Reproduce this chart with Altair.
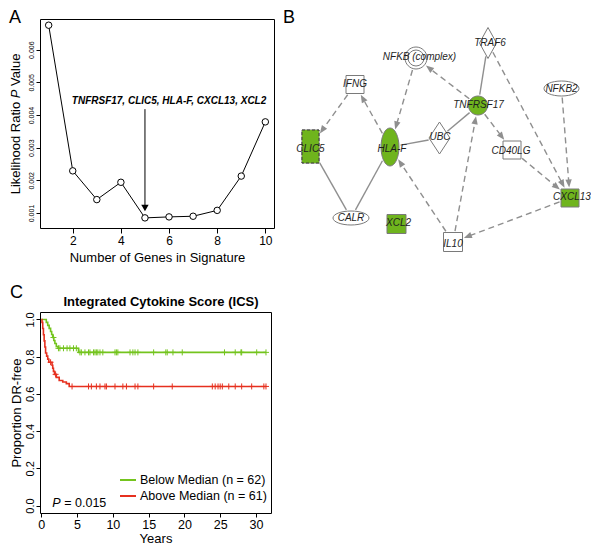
import math
import altair as alt
import pandas as pd

FONT = "Liberation Sans"
NODE_GREEN = "#6fb41d"
LINE_GREEN = "#74c41e"
LINE_RED = "#e6301f"
EDGE_GREY = "#8f8f8f"
NODE_EDGE = "#7a7a7a"

# ---------------- Panel A data ----------------
a_genes = [1, 2, 3, 4, 5, 6, 7, 8, 9, 10]
a_pvalue = [0.00675, 0.00229, 0.00141, 0.00194, 0.00085, 0.00088, 0.00090, 0.00108, 0.00213, 0.00379]
a_x_ticks = [2, 4, 6, 8, 10]
a_y_ticks = [0.001, 0.002, 0.003, 0.004, 0.005, 0.006]
a_note = "TNFRSF17, CLIC5, HLA-F, CXCL13, XCL2"
a_note_x = 6.0
a_note_y = 0.00444
a_arrow_x = 5
a_arrow_top = 0.00418
a_arrow_bottom = 0.00118
a_arrow_head = 0.00115

# ---------------- Panel B data ----------------
b_nodes = ["TRAF6", "NFKB (complex)", "IFNG", "NFKB2", "TNFRSF17", "CLIC5", "HLA-F",
           "UBC", "CD40LG", "CXCL13", "CALR", "XCL2", "IL10"]
b_x = [205, 133, 72, 278.5, 195, 27.5, 107, 156.5, 229, 287, 68, 113.5, 170]
b_y = [34, 49, 75.5, 79.5, 96.5, 137.5, 138, 129, 141, 189, 209, 215, 233]
b_label_x = [207, 136.5, 72, 278.5, 195.5, 27.5, 109, 157, 228, 289, 68, 115.5, 170]
b_label_y = [34, 47.7, 75, 79.5, 96, 140, 140, 127.7, 141.7, 188, 209, 214, 235]
b_highlight = ["TNFRSF17", "CLIC5", "HLA-F", "CXCL13", "XCL2"]
b_dashed_border = ["CLIC5"]
b_solid_edges = [("CLIC5", "CALR"), ("HLA-F", "CALR"), ("HLA-F", "UBC"),
                 ("UBC", "TNFRSF17"), ("TNFRSF17", "TRAF6")]
b_arrow_edges = [("IFNG", "CLIC5"), ("HLA-F", "IFNG"), ("NFKB (complex)", "HLA-F"),
                 ("TNFRSF17", "NFKB (complex)"), ("TRAF6", "CXCL13"), ("NFKB2", "CXCL13"),
                 ("TNFRSF17", "CD40LG"), ("CD40LG", "CXCL13"), ("CXCL13", "IL10"),
                 ("IL10", "TNFRSF17"), ("IL10", "HLA-F")]

# ---------------- Panel C data ----------------
c_groups = ["Below Median (n = 62)", "Above Median (n = 61)"]
c_green_t = [0, 0.7, 0.9, 1.1, 1.3, 1.45, 1.6, 1.75, 1.9, 2.1, 2.35, 5.2, 31.4]
c_green_s = [1.0, 0.984, 0.968, 0.952, 0.935, 0.919, 0.903, 0.887, 0.871, 0.855, 0.845, 0.823, 0.823]
c_red_t = [0, 0.1, 0.2, 0.3, 0.4, 0.5, 0.6, 0.75, 0.9, 1.05, 1.5, 1.6, 1.7, 1.85, 2.1, 2.5, 3.0, 3.5, 3.9, 31.4]
c_red_s = [1.0, 0.984, 0.951, 0.918, 0.885, 0.852, 0.82, 0.803, 0.787, 0.77, 0.754, 0.738, 0.721,
           0.705, 0.689, 0.672, 0.664, 0.655, 0.64, 0.64]
c_green_censor = [1.7, 2.4, 2.6, 3.1, 3.6, 4.0, 4.5, 4.9, 5.4, 5.6, 6.1, 6.6, 6.8, 7.3, 7.5, 7.7, 7.9,
                  8.2, 8.6, 10.3, 10.5, 10.7, 12.4, 12.8, 13.1, 13.5, 15.7, 17.4, 17.6, 18.4, 19.7,
                  25.6, 27.1, 27.9, 28.0, 30.1, 31.4]
c_red_censor = [1.3, 2.0, 4.3, 6.6, 7.0, 7.7, 8.2, 8.9, 9.1, 10.3, 11.4, 11.9, 13.1, 13.5, 15.7,
                18.3, 23.9, 24.3, 24.7, 25.0, 25.3, 26.2, 27.1, 28.0, 29.4, 31.1, 31.4]
c_x_ticks = [0, 5, 10, 15, 20, 25, 30]
c_y_ticks = [0.0, 0.2, 0.4, 0.6, 0.8, 1.0]
c_pvalue_text = "= 0.015"
c_p_pos = [1.53, 0.012]

# =====================================================================
# Panel A
# =====================================================================
A_W, A_H = 234, 209
xa = alt.Scale(domain=[0.64, 10.36], nice=False, zero=False)
ya = alt.Scale(domain=[0.00054, 0.00694], nice=False, zero=False)
a_xaxis = alt.Axis(values=a_x_ticks, title="Number of Genes in Signature", labelFontSize=12,
                   tickSize=5, labelPadding=2, titleFontSize=13, titlePadding=5)
a_yaxis = alt.Axis(values=a_y_ticks, format=".3f", title=None, labelAngle=270,
                   labelAlign="center", labelBaseline="bottom", labelFontSize=7,
                   tickSize=4, labelPadding=2)


def ax(f):
    return alt.X(f, scale=xa, axis=a_xaxis)


def ay(f):
    return alt.Y(f, scale=ya, axis=a_yaxis)


a_df = pd.DataFrame({"n": a_genes, "p": a_pvalue})
a_line = alt.Chart(a_df).mark_line(color="black", strokeWidth=1).encode(x=ax("n:Q"), y=ay("p:Q"))
a_pts = alt.Chart(a_df).mark_point(shape="circle", filled=True, fill="white", stroke="black",
                                   strokeWidth=1, size=42, opacity=1).encode(x=ax("n:Q"), y=ay("p:Q"))
a_note_df = pd.DataFrame({"x": [a_note_x], "y": [a_note_y], "t": [a_note]})
a_text = alt.Chart(a_note_df).mark_text(font=FONT, fontSize=10, fontWeight="bold", fontStyle="italic",
                                        color="black").encode(x=ax("x:Q"), y=ay("y:Q"), text="t:N")
a_arrow_df = pd.DataFrame({"x": [a_arrow_x], "y": [a_arrow_top], "y2": [a_arrow_bottom],
                           "yh": [a_arrow_head]})
a_shaft = alt.Chart(a_arrow_df).mark_rule(color="black", strokeWidth=1).encode(
    x=ax("x:Q"), y=ay("y:Q"), y2="y2:Q")
a_head = alt.Chart(a_arrow_df).mark_point(shape="triangle-down", filled=True, color="black",
                                          size=55, opacity=1).encode(x=ax("x:Q"), y=ay("yh:Q"))

# y-axis title with italic P
yt_df = pd.DataFrame({"t": ["Likelihood Ratio", "P", "Value"],
                      "pos": [175.3, 79.2, 66.9], "it": ["normal", "italic", "normal"]})
a_ytitle = [
    alt.Chart(yt_df.iloc[[i]]).mark_text(font=FONT, fontSize=13, angle=270, align="left",
                                         baseline="middle", color="black",
                                         fontStyle=yt_df["it"][i]).encode(
        text="t:N", x=alt.value(-24), y=alt.value(float(yt_df["pos"][i])))
    for i in range(3)
]
a_letter = alt.Chart(pd.DataFrame({"t": ["A"]})).mark_text(
    font=FONT, fontSize=18, align="left", baseline="top", color="black").encode(
    text="t:N", x=alt.value(-31), y=alt.value(-10))

panel_a = alt.layer(a_line, a_pts, a_shaft, a_head, a_text, *a_ytitle, a_letter).properties(
    width=A_W, height=A_H, view=alt.ViewBackground(stroke="black", strokeWidth=1))

# =====================================================================
# Panel B (network)
# =====================================================================
B_W, B_H = 308, 240
B_Y0 = 10  # network coordinate shown at the top edge of the panel
# node drawing styles: (kind, half width, half height)
NODE_STYLE = {
    "TRAF6": ("diamond", 8.5, 15.5),
    "NFKB (complex)": ("ellipse", 11, 11),
    "IFNG": ("rect", 9, 9),
    "NFKB2": ("ellipse", 17.5, 7.5),
    "TNFRSF17": ("ellipse", 9.5, 9.5),
    "CLIC5": ("rect", 8.5, 16.5),
    "HLA-F": ("ellipse", 9, 19),
    "UBC": ("diamond", 10.5, 16),
    "CD40LG": ("rect", 9, 9),
    "CXCL13": ("rect", 9, 9),
    "CALR": ("ellipse", 18, 7),
    "XCL2": ("rect", 9.5, 9.5),
    "IL10": ("rect", 9.5, 9.5),
}


def shape_path(kind, hw, hh):
    m = max(hw, hh)
    hx, hy = hw / m, hh / m
    if kind == "rect":
        return f"M {-hx:.4f} {-hy:.4f} L {hx:.4f} {-hy:.4f} L {hx:.4f} {hy:.4f} L {-hx:.4f} {hy:.4f} Z"
    if kind == "diamond":
        return f"M 0 {-hy:.4f} L {hx:.4f} 0 L 0 {hy:.4f} L {-hx:.4f} 0 Z"
    return (f"M {-hx:.4f} 0 A {hx:.4f} {hy:.4f} 0 1 0 {hx:.4f} 0 "
            f"A {hx:.4f} {hy:.4f} 0 1 0 {-hx:.4f} 0 Z")


def reach(name, ux, uy):
    kind, hw, hh = NODE_STYLE[name]
    if kind == "rect":
        tx = hw / abs(ux) if abs(ux) > 1e-9 else 1e9
        ty = hh / abs(uy) if abs(uy) > 1e-9 else 1e9
        return min(tx, ty)
    if kind == "diamond":
        return 1.0 / (abs(ux) / hw + abs(uy) / hh)
    return 1.0 / math.sqrt((ux / hw) ** 2 + (uy / hh) ** 2)


pos = {n: (x, y) for n, x, y in zip(b_nodes, b_x, b_y)}
GAP = 1.5
HEAD = 8.0
seg_rows, head_rows = [], []
for edges, arrow in ((b_solid_edges, False), (b_arrow_edges, True)):
    for s, t in edges:
        x0, y0 = pos[s]
        x1, y1 = pos[t]
        L = math.hypot(x1 - x0, y1 - y0)
        ux, uy = (x1 - x0) / L, (y1 - y0) / L
        rs = reach(s, ux, uy) + GAP
        rt = reach(t, ux, uy) + GAP
        sx, sy = x0 + rs * ux, y0 + rs * uy
        tx, ty = x1 - rt * ux, y1 - rt * uy
        if arrow:
            ex, ey = tx - 0.7 * HEAD * ux, ty - 0.7 * HEAD * uy
            head_rows.append({"x": tx - HEAD / 2 * ux, "y": ty - HEAD / 2 * uy,
                              "ang": math.degrees(math.atan2(ux, -uy)) % 360})
        else:
            ex, ey = tx, ty
        seg_rows.append({"x": sx, "y": sy, "x2": ex, "y2": ey, "dash": arrow})
seg_df = pd.DataFrame(seg_rows)
head_df = pd.DataFrame(head_rows)

node_rows = []
for n, x, y in zip(b_nodes, b_x, b_y):
    kind, hw, hh = NODE_STYLE[n]
    node_rows.append({"name": n, "x": x, "y": y, "path": shape_path(kind, hw, hh),
                      "size": (2 * max(hw, hh)) ** 2,
                      "fill": NODE_GREEN if n in b_highlight else "white"})
node_df = pd.DataFrame(node_rows)
label_df = pd.DataFrame({"name": b_nodes, "x": b_label_x, "y": b_label_y})

xb = alt.Scale(domain=[0, B_W], nice=False, zero=False)
yb = alt.Scale(domain=[B_Y0, B_Y0 + B_H], nice=False, zero=False, reverse=True)


def bx(f):
    return alt.X(f, scale=xb, axis=None)


def by(f):
    return alt.Y(f, scale=yb, axis=None)


b_solid = alt.Chart(seg_df[~seg_df["dash"]]).mark_rule(color=EDGE_GREY, strokeWidth=1.4).encode(
    x=bx("x:Q"), y=by("y:Q"), x2="x2:Q", y2="y2:Q")
b_dashed = alt.Chart(seg_df[seg_df["dash"]]).mark_rule(color=EDGE_GREY, strokeWidth=1.4,
                                                       strokeDash=[6, 4]).encode(
    x=bx("x:Q"), y=by("y:Q"), x2="x2:Q", y2="y2:Q")
b_heads = alt.Chart(head_df).mark_point(shape="M 0 -1 L 0.8 1 L -0.8 1 Z", filled=True,
                                        color=EDGE_GREY, size=HEAD ** 2, opacity=1).encode(
    x=bx("x:Q"), y=by("y:Q"), angle=alt.Angle("ang:Q", scale=None))
b_node = alt.Chart(node_df).mark_point(filled=True, stroke=NODE_EDGE, strokeWidth=1,
                                       opacity=1).encode(
    x=bx("x:Q"), y=by("y:Q"), shape=alt.Shape("path:N", scale=None),
    size=alt.Size("size:Q", scale=None), fill=alt.Fill("fill:N", scale=None))
inner_df = node_df[node_df["name"] == "NFKB (complex)"]
b_inner = alt.Chart(inner_df).mark_point(shape="circle", filled=False, stroke=NODE_EDGE,
                                         strokeWidth=1, size=256, opacity=1).encode(
    x=bx("x:Q"), y=by("y:Q"))
dash_df = node_df[node_df["name"].isin(b_dashed_border)]
b_dashnode = alt.Chart(dash_df).mark_point(filled=True, fill=NODE_GREEN, stroke="#3a3a3a",
                                           strokeWidth=1, strokeDash=[3, 2], opacity=1).encode(
    x=bx("x:Q"), y=by("y:Q"), shape=alt.Shape("path:N", scale=None),
    size=alt.Size("size:Q", scale=None))
b_labels = alt.Chart(label_df).mark_text(font=FONT, fontSize=10, fontStyle="italic",
                                         color="#1e1e1e").encode(
    x=bx("x:Q"), y=by("y:Q"), text="name:N")
b_letter = alt.Chart(pd.DataFrame({"t": ["B"]})).mark_text(
    font=FONT, fontSize=18, align="left", baseline="top", color="black").encode(
    text="t:N", x=alt.value(0), y=alt.value(-10))

panel_b = alt.layer(b_solid, b_dashed, b_heads, b_node, b_inner, b_dashnode, b_labels,
                    b_letter).properties(width=B_W, height=B_H)

# =====================================================================
# Panel C (Kaplan-Meier)
# =====================================================================
C_W, C_H = 231, 201
xc = alt.Scale(domain=[-0.18, 32.1], nice=False, zero=False)
yc = alt.Scale(domain=[-0.04, 1.04], nice=False, zero=False)
c_xaxis = alt.Axis(values=c_x_ticks, format="d", title="Years", labelFontSize=12.5, tickSize=4,
                   labelPadding=1, titleFontSize=13, titlePadding=2)
c_yaxis = alt.Axis(values=c_y_ticks, format=".1f", title="Proportion DR-free", labelAngle=270,
                   labelAlign="center", labelBaseline="bottom", labelFontSize=11, tickSize=4,
                   labelPadding=1, titleFontSize=13, titlePadding=1)
c_color = alt.Color("g:N", scale=alt.Scale(domain=c_groups, range=[LINE_GREEN, LINE_RED]),
                    legend=alt.Legend(orient="none", legendX=79, legendY=159, title=None,
                                      symbolType="stroke", symbolSize=256, symbolStrokeWidth=2,
                                      labelFontSize=12.5, labelFont=FONT, labelColor="black",
                                      labelOffset=3, rowPadding=0, padding=0))


def step_value(ts, ss, t):
    v = ss[0]
    for ti, si in zip(ts, ss):
        if ti <= t:
            v = si
    return v


curve_df = pd.concat([
    pd.DataFrame({"g": c_groups[0], "t": c_green_t, "s": c_green_s}),
    pd.DataFrame({"g": c_groups[1], "t": c_red_t, "s": c_red_s}),
])
cens_df = pd.concat([
    pd.DataFrame({"g": c_groups[0], "t": c_green_censor,
                  "s": [step_value(c_green_t, c_green_s, t) for t in c_green_censor]}),
    pd.DataFrame({"g": c_groups[1], "t": c_red_censor,
                  "s": [step_value(c_red_t, c_red_s, t) for t in c_red_censor]}),
])


def cx(f):
    return alt.X(f, scale=xc, axis=c_xaxis)


def cy(f):
    return alt.Y(f, scale=yc, axis=c_yaxis)


c_lines = alt.Chart(curve_df).mark_line(interpolate="step-after", strokeWidth=1.6).encode(
    x=cx("t:Q"), y=cy("s:Q"), color=c_color, detail="g:N")
c_cens = alt.Chart(cens_df).mark_point(shape="M -1 0 L 1 0 M 0 -1 L 0 1", filled=False,
                                       size=36, strokeWidth=1, opacity=1).encode(
    x=cx("t:Q"), y=cy("s:Q"), color=c_color)
p_df = pd.DataFrame({"x": [c_p_pos[0]], "y": [c_p_pos[1]], "p": ["P"], "v": [c_pvalue_text]})
c_p1 = alt.Chart(p_df).mark_text(font=FONT, fontSize=12.5, fontStyle="italic", align="left",
                                 baseline="middle", color="black").encode(
    x=cx("x:Q"), y=cy("y:Q"), text="p:N")
c_p2 = alt.Chart(p_df).mark_text(font=FONT, fontSize=12.5, align="left", baseline="middle",
                                 color="black", dx=12).encode(
    x=cx("x:Q"), y=cy("y:Q"), text="v:N")
c_title = alt.Chart(pd.DataFrame({"t": ["Integrated Cytokine Score (ICS)"]})).mark_text(
    font=FONT, fontSize=13, fontWeight="bold", align="center", baseline="middle",
    color="black").encode(text="t:N", x=alt.value(121), y=alt.value(-10))
c_letter = alt.Chart(pd.DataFrame({"t": ["C"]})).mark_text(
    font=FONT, fontSize=18, align="left", baseline="top", color="black").encode(
    text="t:N", x=alt.value(-30), y=alt.value(-28))

panel_c = alt.layer(c_lines, c_cens, c_p1, c_p2, c_title, c_letter).properties(
    width=C_W, height=C_H, view=alt.ViewBackground(stroke="black", strokeWidth=1))

chart = alt.vconcat(
    alt.hconcat(panel_a, panel_b, spacing=8),
    panel_c,
    spacing=18,
).resolve_scale(color="independent").resolve_legend(color="independent").properties(
    padding=0).configure(font=FONT).configure_view(stroke=None).configure_axis(
    labelFont=FONT, titleFont=FONT, labelColor="black", titleColor="black", tickColor="black",
    domain=False, grid=False, titleFontWeight="normal", tickWidth=1)

chart.save("out.html", embed_options={"renderer": "svg", "actions": False})
